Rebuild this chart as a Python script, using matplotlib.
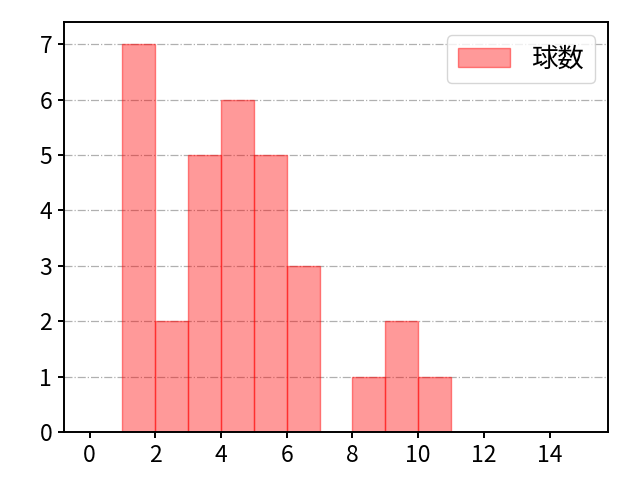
import matplotlib
matplotlib.use("Agg")
import matplotlib.pyplot as plt
import numpy as np

plt.rcParams['font.family'] = ['Noto Sans CJK JP', 'DejaVu Sans']

bin_edges = [1, 2, 3, 4, 5, 6, 7, 8, 9, 10, 11]
counts = [7, 2, 5, 6, 5, 3, 0, 1, 2, 1]
label = "球数"

fig = plt.figure(figsize=(6.4, 4.8), dpi=100)
ax = fig.add_axes([0.1, 0.1, 0.85, 0.854])
left = np.array(bin_edges[:-1])
widths = np.diff(bin_edges)
ax.bar(left, counts, width=widths, align='edge', facecolor=(1, 0, 0, 0.4),
       edgecolor=(1, 0, 0, 0.45), linewidth=1, label=label, zorder=2)
ax.set_xlim(-0.78, 15.78)
ax.set_ylim(0, 7.4)
ax.set_xticks(range(0, 15, 2))
ax.set_yticks(range(0, 8))
ax.yaxis.grid(True, linestyle='-.', color='#b0b0b0', linewidth=0.9, zorder=0)
ax.set_axisbelow(True)
ax.tick_params(labelsize=16.5, width=1.4, length=4.5, pad=4)
for s in ax.spines.values():
    s.set_linewidth(1.4)
ax.legend(loc='upper right', fontsize=19)
fig.savefig("out.png", dpi=100)
